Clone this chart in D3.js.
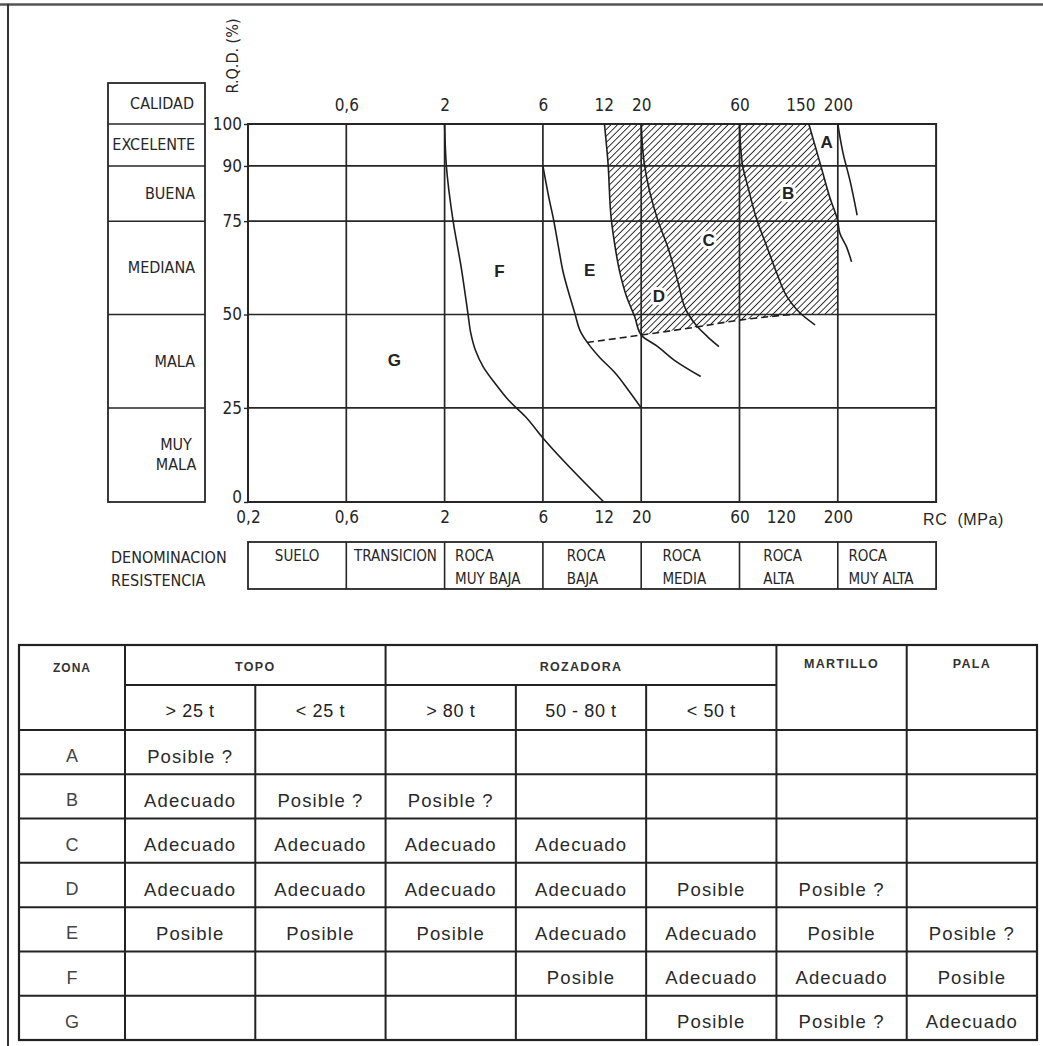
<!DOCTYPE html>
<html><head><meta charset="utf-8">
<script src="https://cdn.jsdelivr.net/npm/d3@7"></script>
<style>
html,body{margin:0;padding:0;background:#fff;}
svg{display:block;}
</style></head>
<body>
<svg id="c" width="1043" height="1046"></svg>
<script>
// ---------------- DATA ----------------
const xTicksTop = [0.6, 2, 6, 12, 20, 60, 150, 200];
const xTicksBottom = [0.2, 0.6, 2, 6, 12, 20, 60, 120, 200];
const xTickLabelTop = ["0,6", "2", "6", "12", "20", "60", "150", "200"];
const xTickLabelBottom = ["0,2", "0,6", "2", "6", "12", "20", "60", "120", "200"];
const xGrid = [0.6, 2, 6, 20, 60, 200];
const yTicks = [0, 25, 50, 75, 90, 100];

const calidadLabels = [["EXCELENTE"], ["BUENA"], ["MEDIANA"], ["MALA"], ["MUY", "MALA"]];
const calidadRanges = [[90, 100], [75, 90], [50, 75], [25, 50], [0, 25]];

const denomLabels = [["SUELO"], ["TRANSICION"], ["ROCA", "MUY BAJA"], ["ROCA", "BAJA"], ["ROCA", "MEDIA"], ["ROCA", "ALTA"], ["ROCA", "MUY ALTA"]];
const denomBounds = [0.2, 0.6, 2, 6, 20, 60, 200, 600];

// curves: [RC (MPa), RQD (%)]
const curveF = [[2, 100], [2.04, 90], [2.2, 75], [2.41, 62.5], [2.6, 50], [2.68, 45], [2.82, 40.5], [3.08, 36], [3.51, 31.6], [4.08, 27.1], [4.93, 22.7], [6, 17], [12, 0]];
const curveE = [[6, 90], [6.41, 81.6], [6.78, 75.3], [7.16, 68.1], [7.57, 61.1], [8.15, 54.8], [8.62, 50.4], [9.27, 45.1], [9.98, 42.4], [11.36, 38.7], [13.97, 34.4], [16.75, 29.8], [20, 25]];
const curveD = [[12.1, 100], [12.7, 90.8], [13.3, 75.3], [14, 68.1], [14.98, 61], [16.37, 54.8], [18.3, 49.4], [20, 44.5], [24.07, 41.4], [28.9, 37.8], [38.9, 33.4]];
const curveC = [[20, 100], [20.67, 90.8], [24.07, 75.3], [26.9, 68.1], [30, 59.2], [33.6, 50.4], [37.5, 46.7], [41.9, 44.1], [47.7, 41.4]];
const curveB = [[60, 100], [62.7, 90.8], [70, 83.5], [80.4, 75.3], [95.2, 68.1], [112.5, 61], [128.7, 54.8], [149.4, 50.4], [167.8, 47.2]];
const curveAB = [[160, 100], [174.3, 90.8], [188.1, 81.4], [200, 75], [204.4, 71.8], [220.5, 68.1], [233.2, 64.1]];
const curveA = [[200, 100], [212.2, 93], [228.8, 86.2], [248.3, 76.6]];
const dashedLimit = [[9.9, 42.5], [20, 44.5], [37.5, 46.7], [60, 48.5], [135, 50]];

const zoneLabels = ["A", "B", "C", "D", "E", "F", "G"];
const zoneLabelRC = [183.5, 130.6, 42.5, 24.4, 10.2, 3.69, 1.08];
const zoneLabelRQD = [95.5, 82.6, 69.9, 54.9, 61.9, 61.6, 37.8];

// table
const tableGroups = ["TOPO", "ROZADORA", "MARTILLO", "PALA"];
const tableGroupSpans = [2, 3, 1, 1];
const tableSubHeaders = ["> 25 t", "< 25 t", "> 80 t", "50 - 80 t", "< 50 t", "", ""];
const tableZones = ["A", "B", "C", "D", "E", "F", "G"];
const rowA = ["Posible ?", "", "", "", "", "", ""];
const rowB = ["Adecuado", "Posible ?", "Posible ?", "", "", "", ""];
const rowC = ["Adecuado", "Adecuado", "Adecuado", "Adecuado", "", "", ""];
const rowD = ["Adecuado", "Adecuado", "Adecuado", "Adecuado", "Posible", "Posible ?", ""];
const rowE = ["Posible", "Posible", "Posible", "Adecuado", "Adecuado", "Posible", "Posible ?"];
const rowF = ["", "", "", "Posible", "Adecuado", "Adecuado", "Posible"];
const rowG = ["", "", "", "", "Posible", "Posible ?", "Adecuado"];
const tableRows = [rowA, rowB, rowC, rowD, rowE, rowF, rowG];

// ---------------- LAYOUT ----------------
const NARROW = "'Liberation Sans Narrow','DejaVu Sans Condensed','Arial Narrow',sans-serif";
const SANS = "'Liberation Sans',Arial,Helvetica,sans-serif";
const INK = "#262626";
const svg = d3.select("#c");

// page frame
svg.append("line").attr("x1", 0).attr("x2", 1043).attr("y1", 4.5).attr("y2", 4.5).attr("stroke", "#555").attr("stroke-width", 2.5);
svg.append("line").attr("x1", 8).attr("x2", 8).attr("y1", 4).attr("y2", 1046).attr("stroke", "#333").attr("stroke-width", 2);

const plotL = 248, colW = 98.3, plotT = 124, plotB = 502;
const x = d3.scaleLog()
  .domain([0.2, 0.6, 2, 6, 12, 20, 60, 120, 150, 200, 600])
  .range([0, 1, 2, 3, 3.62, 4, 5, 5.42, 5.62, 6, 7].map(u => plotL + u * colW));
const plotR = x(600);
const ph = plotB - plotT;
const y = d3.scaleLinear()
  .domain([0, 25, 50, 75, 90, 100])
  .range([0, 0.249, 0.496, 0.743, 0.889, 1].map(f => plotB - f * ph));

const g = svg.append("g");

// hatch pattern
const defs = svg.append("defs");
const pat = defs.append("pattern").attr("id", "hatch").attr("patternUnits", "userSpaceOnUse")
  .attr("width", 4.6).attr("height", 4.6).attr("patternTransform", "rotate(45)");
pat.append("line").attr("x1", 0).attr("y1", 0).attr("x2", 0).attr("y2", 4.6).attr("stroke", "#1e1e1e").attr("stroke-width", 1.8);

// hatch polygon
const iAB = curveAB.findIndex(d => d[0] === 200 && d[1] === 75);
const iD = curveD.findIndex(d => d[0] === 20);
const hatchPoly = [
  ...curveAB.slice(0, iAB + 1),
  [200, 50],
  ...dashedLimit.slice(1).reverse(),
  ...curveD.slice(0, iD).reverse()
];
g.append("path")
  .attr("d", d3.line().x(d => x(d[0])).y(d => y(d[1])).curve(d3.curveLinearClosed)(hatchPoly))
  .attr("fill", "url(#hatch)").attr("stroke", "none");

// grid
g.selectAll(".vg").data(xGrid).join("line")
  .attr("x1", d => x(d)).attr("x2", d => x(d)).attr("y1", plotT).attr("y2", plotB)
  .attr("stroke", INK).attr("stroke-width", 1.7);
g.selectAll(".hg").data(yTicks).join("line")
  .attr("x1", plotL).attr("x2", plotR).attr("y1", d => y(d)).attr("y2", d => y(d))
  .attr("stroke", INK).attr("stroke-width", 1.7);
g.append("rect").attr("x", plotL).attr("y", plotT).attr("width", plotR - plotL).attr("height", ph)
  .attr("fill", "none").attr("stroke", INK).attr("stroke-width", 2);

// y axis
const yAxis = d3.axisLeft(y).tickValues(yTicks).tickSize(4).tickPadding(2).tickFormat(d3.format("d"));
const ya = g.append("g").attr("transform", `translate(${plotL},0)`).call(yAxis);
ya.select(".domain").remove();
ya.selectAll("line").attr("stroke", INK).attr("stroke-width", 1.4);
ya.selectAll("text").attr("font-family", NARROW).attr("font-size", 17).attr("fill", INK)
  .attr("dy", d => d === 0 ? "0.05em" : "0.32em");

// top labels
const xaTop = d3.axisTop(x).tickValues(xTicksTop).tickSize(0).tickPadding(13)
  .tickFormat((d, i) => xTickLabelTop[i]);
const gt = g.append("g").attr("transform", `translate(0,${plotT})`).call(xaTop);
gt.select(".domain").remove();
gt.selectAll("text").attr("font-family", NARROW).attr("font-size", 17).attr("fill", INK);

// bottom labels
const xaBot = d3.axisBottom(x).tickValues(xTicksBottom).tickSize(0).tickPadding(9)
  .tickFormat((d, i) => xTickLabelBottom[i]);
const gb = g.append("g").attr("transform", `translate(0,${plotB})`).call(xaBot);
gb.select(".domain").remove();
gb.selectAll("text").attr("font-family", NARROW).attr("font-size", 17).attr("fill", INK);

g.append("text").attr("x", 923).attr("y", 525).attr("font-family", SANS).attr("font-size", 16)
  .attr("letter-spacing", 0.6).attr("fill", INK).attr("xml:space", "preserve").text("RC  (MPa)");

// R.Q.D. label
g.append("text").attr("transform", `translate(238,56) rotate(-90)`).attr("text-anchor", "middle")
  .attr("font-family", NARROW).attr("font-size", 16).attr("fill", INK).text("R.Q.D. (%)");

// curves
const lineGen = d3.line().x(d => x(d[0])).y(d => y(d[1])).curve(d3.curveMonotoneY);
[curveF, curveE, curveD, curveC, curveB, curveAB, curveA].forEach(c => {
  g.append("path").attr("d", lineGen(c)).attr("fill", "none").attr("stroke", "#1e1e1e").attr("stroke-width", 1.6);
});
g.append("path").attr("d", d3.line().x(d => x(d[0])).y(d => y(d[1])).curve(d3.curveMonotoneX)(dashedLimit))
  .attr("fill", "none").attr("stroke", "#1e1e1e").attr("stroke-width", 1.6).attr("stroke-dasharray", "7,4");

// zone labels
g.selectAll(".zl").data(zoneLabels).join("text")
  .attr("x", (d, i) => x(zoneLabelRC[i])).attr("y", (d, i) => y(zoneLabelRQD[i]))
  .attr("text-anchor", "middle").attr("dominant-baseline", "central")
  .attr("font-family", SANS).attr("font-size", 17).attr("font-weight", 600).attr("fill", "#222")
  .attr("stroke", "#fff").attr("stroke-width", 6).attr("paint-order", "stroke").attr("stroke-linejoin", "round")
  .text(d => d);

// calidad column
const calL = 108, calR = 205, calTop = 83;
g.append("rect").attr("x", calL).attr("y", calTop).attr("width", calR - calL).attr("height", plotB - calTop)
  .attr("fill", "none").attr("stroke", INK).attr("stroke-width", 1.8);
g.selectAll(".cl").data(yTicks.slice(1)).join("line")
  .attr("x1", calL).attr("x2", calR).attr("y1", d => y(d)).attr("y2", d => y(d))
  .attr("stroke", INK).attr("stroke-width", 1.5);
g.append("text").attr("x", calR - 11).attr("y", (calTop + plotT) / 2).attr("text-anchor", "end")
  .attr("dominant-baseline", "central").attr("font-family", NARROW).attr("font-size", 16).attr("fill", INK).text("CALIDAD");
calidadLabels.forEach((lab, i) => {
  const cy = (y(calidadRanges[i][0]) + y(calidadRanges[i][1])) / 2;
  const n = lab.length;
  lab.forEach((t, j) => {
    g.append("text")
      .attr("x", n > 1 ? 176 : calR - 10)
      .attr("y", cy + (j - (n - 1) / 2) * 20)
      .attr("text-anchor", n > 1 ? "middle" : "end").attr("dominant-baseline", "central")
      .attr("font-family", NARROW).attr("font-size", 16).attr("fill", INK).text(t);
  });
});

// denominacion row
const dTop = 542, dBot = 589;
g.append("text").attr("x", 111).attr("y", 557).attr("dominant-baseline", "central")
  .attr("font-family", NARROW).attr("font-size", 16).attr("fill", INK).text("DENOMINACION");
g.append("text").attr("x", 111).attr("y", 580).attr("dominant-baseline", "central")
  .attr("font-family", NARROW).attr("font-size", 16).attr("fill", INK).text("RESISTENCIA");
g.append("rect").attr("x", x(0.2)).attr("y", dTop).attr("width", x(600) - x(0.2)).attr("height", dBot - dTop)
  .attr("fill", "none").attr("stroke", INK).attr("stroke-width", 1.8);
g.selectAll(".dd").data(denomBounds.slice(1, -1)).join("line")
  .attr("x1", d => x(d)).attr("x2", d => x(d)).attr("y1", dTop).attr("y2", dBot)
  .attr("stroke", INK).attr("stroke-width", 1.6);
denomLabels.forEach((lab, i) => {
  const a = x(denomBounds[i]), b = x(denomBounds[i + 1]);
  const grp = g.append("g");
  lab.forEach((t, j) => {
    grp.append("text").attr("y", 556 + j * 23).attr("dominant-baseline", "central")
      .attr("font-family", NARROW).attr("font-size", 15).attr("fill", INK).text(t);
  });
  const w = d3.max(grp.selectAll("text").nodes(), n => n.getComputedTextLength());
  const left = lab.length === 1 ? (a + b) / 2 - w / 2 : Math.max(a + 7, (a + b) / 2 - w / 2 - 6);
  grp.selectAll("text").attr("x", left);
});

// ---------------- TABLE ----------------
const tL = 19, tZ = 106, tR = 1037, tTop = 645, tSub = 685, tHead = 730, tBot = 1040;
const tc = (tR - tL - tZ) / 7;
const rowH = (tBot - tHead) / 7;
const colX = i => tL + tZ + i * tc;
const T = svg.append("g");
T.append("rect").attr("x", tL).attr("y", tTop).attr("width", tR - tL).attr("height", tBot - tTop)
  .attr("fill", "none").attr("stroke", "#222").attr("stroke-width", 2.2);
T.selectAll(".rl").data(d3.range(0, 7)).join("line")
  .attr("x1", tL).attr("x2", tR).attr("y1", d => tHead + d * rowH).attr("y2", d => tHead + d * rowH)
  .attr("stroke", "#222").attr("stroke-width", 2);
T.append("line").attr("x1", colX(0)).attr("x2", colX(5)).attr("y1", tSub).attr("y2", tSub)
  .attr("stroke", "#222").attr("stroke-width", 2);
const groupStarts = [0, 2, 5, 6, 7];
T.selectAll(".vl").data(d3.range(0, 7)).join("line")
  .attr("x1", d => colX(d)).attr("x2", d => colX(d))
  .attr("y1", d => groupStarts.includes(d) ? tTop : tSub).attr("y2", tBot)
  .attr("stroke", "#222").attr("stroke-width", 2);
T.append("text").attr("x", tL + tZ / 2).attr("y", 668).attr("text-anchor", "middle").attr("dominant-baseline", "central")
  .attr("font-family", SANS).attr("font-size", 12).attr("font-weight", 700).attr("letter-spacing", 1).attr("fill", "#333").text("ZONA");
let start = 0;
tableGroups.forEach((t, i) => {
  const span = tableGroupSpans[i];
  const cx = (colX(start) + colX(start + span)) / 2;
  T.append("text").attr("x", cx).attr("y", span > 1 ? 667 : 664).attr("text-anchor", "middle").attr("dominant-baseline", "central")
    .attr("font-family", SANS).attr("font-size", 12.5).attr("font-weight", 700).attr("letter-spacing", 1.3).attr("fill", "#333").text(t);
  start += span;
});
tableSubHeaders.forEach((t, i) => {
  if (!t) return;
  T.append("text").attr("x", colX(i) + tc / 2).attr("y", 711).attr("text-anchor", "middle").attr("dominant-baseline", "central")
    .attr("font-family", SANS).attr("font-size", 18).attr("letter-spacing", 0.6).attr("fill", "#222").attr("xml:space", "preserve").text(t);
});
tableZones.forEach((z, r) => {
  const cy = tHead + r * rowH + rowH / 2 + 4;
  T.append("text").attr("x", tL + tZ / 2).attr("y", cy).attr("text-anchor", "middle").attr("dominant-baseline", "central")
    .attr("font-family", SANS).attr("font-size", 18).attr("fill", "#444").text(z);
  tableRows[r].forEach((v, c) => {
    if (!v) return;
    T.append("text").attr("x", colX(c) + tc / 2).attr("y", cy).attr("text-anchor", "middle").attr("dominant-baseline", "central")
      .attr("font-family", SANS).attr("font-size", 18.5).attr("letter-spacing", 1.1).attr("fill", "#2a2a2a").text(v);
  });
});
</script>
</body></html>
